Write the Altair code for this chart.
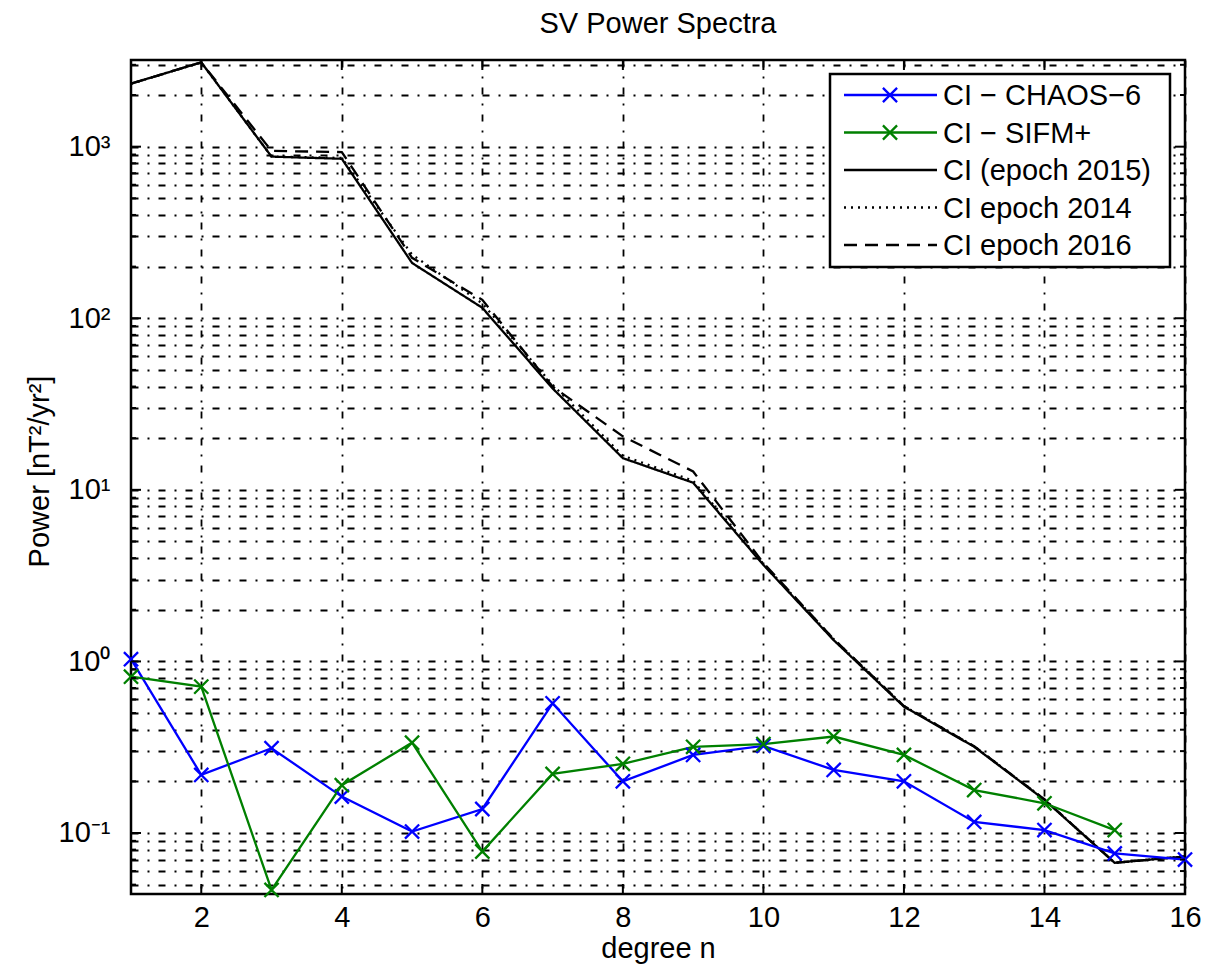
import altair as alt
import pandas as pd

# ---------------- data ----------------
degrees = list(range(1, 17))
chaos6 = [1.03, 0.218, 0.312, 0.163, 0.102, 0.138, 0.570, 0.200, 0.285, 0.322,
          0.233, 0.200, 0.116, 0.104, 0.076, 0.070]
sifm_degrees = list(range(1, 16))
sifm = [0.815, 0.713, 0.0466, 0.190, 0.336, 0.078, 0.221, 0.253, 0.318, 0.330,
        0.365, 0.285, 0.178, 0.149, 0.104]
ci2015 = [2330, 3100, 875, 850, 210, 115, 39, 15.3, 11.0, 3.65,
          1.33, 0.545, 0.318, 0.156, 0.067, 0.073]
ci2014 = [2330, 3100, 875, 860, 235, 122, 41, 15.8, 11.3, 3.70,
          1.35, 0.550, 0.320, 0.157, 0.067, 0.073]
ci2016 = [2330, 3100, 945, 930, 225, 128, 40, 20.5, 12.8, 3.75,
          1.35, 0.550, 0.320, 0.157, 0.067, 0.073]

series_names = ["CI \u2212 CHAOS\u22126", "CI \u2212 SIFM+", "CI (epoch 2015)",
                "CI epoch 2014", "CI epoch 2016"]
series_colors = ["#0000ff", "#008000", "#000000", "#000000", "#000000"]
series_dash = [[1, 0], [1, 0], [1, 0], [2, 5], [13, 8]]

chart_title = "SV Power Spectra"
x_tick_values = [2, 4, 6, 8, 10, 12, 14, 16]
y_decades = [0.1, 1.0, 10.0, 100.0, 1000.0]
y_domain = [0.0441, 3200]
x_domain = [1, 16]
y_grid_values = [round(m * 10.0 ** k, 6) for k in range(-2, 4) for m in range(1, 10)
                 if y_domain[0] <= m * 10.0 ** k <= y_domain[1]]
y_minor = [v for v in y_grid_values if v not in y_decades]

# ---------------- layout ----------------
W, H = 1054, 834
FONT = "Liberation Sans"
FS = 29
LW = 2.3
XPATH = "M-1,-1L1,1M-1,1L1,-1"

rows = []
for d, v in zip(degrees, chaos6):
    rows.append({"degree": d, "power": v, "series": series_names[0]})
for d, v in zip(sifm_degrees, sifm):
    rows.append({"degree": d, "power": v, "series": series_names[1]})
for d, v in zip(degrees, ci2015):
    rows.append({"degree": d, "power": v, "series": series_names[2]})
for d, v in zip(degrees, ci2014):
    rows.append({"degree": d, "power": v, "series": series_names[3]})
for d, v in zip(degrees, ci2016):
    rows.append({"degree": d, "power": v, "series": series_names[4]})
df = pd.DataFrame(rows)

xscale = alt.Scale(domain=x_domain, nice=False, zero=False)
yscale = alt.Scale(type="log", domain=y_domain, nice=False)

label_expr = ("datum.value == 1000 ? '10\u00b3' : datum.value == 100 ? '10\u00b2' : "
              "datum.value == 10 ? '10\u00b9' : datum.value == 1 ? '10\u2070' : "
              "datum.value == 0.1 ? '10\u207b\u00b9' : ''")

xaxis = alt.Axis(values=x_tick_values, title="degree n", grid=True, ticks=False,
                 domain=False, labelPadding=9, labelFlush=False, labelOverlap=False,
                 titleY=63, titleBaseline="alphabetic")
yaxis = alt.Axis(values=y_grid_values, title="Power [nT\u00b2/yr\u00b2]", grid=True,
                 ticks=False, domain=False, labelExpr=label_expr, labelPadding=21,
                 labelOverlap=False, labelBound=False, labelFlush=False,
                 titleX=-83, titleY=H / 2 - 6, titleBaseline="alphabetic", titleAngle=270)

X = alt.X("degree:Q", scale=xscale, axis=xaxis)
Y = alt.Y("power:Q", scale=yscale, axis=yaxis)

color = alt.Color("series:N", scale=alt.Scale(domain=series_names, range=series_colors),
                  legend=None)
dash = alt.StrokeDash("series:N", scale=alt.Scale(domain=series_names, range=series_dash),
                      legend=None)

black = df[df.series.isin(series_names[2:])]
colored = df[df.series.isin(series_names[:2])]

black_lines = alt.Chart(black).mark_line(strokeWidth=LW).encode(
    x=X, y=Y, color=color, strokeDash=dash, order="degree:Q",
    detail="series:N")
col_lines = alt.Chart(colored).mark_line(strokeWidth=LW).encode(
    x=X, y=Y, color=color, detail="series:N", order="degree:Q")
col_points = alt.Chart(colored).mark_point(shape=XPATH, size=200, filled=False,
                                           strokeWidth=LW, opacity=1).encode(
    x=X, y=Y, color=color)

# inward ticks (box style)
df_ymaj = pd.DataFrame({"power": y_decades})
df_ymin = pd.DataFrame({"power": y_minor})
df_xt = pd.DataFrame({"degree": x_tick_values[:-1]})

tick_layers = []
for dd, ln in ((df_ymaj, 10), (df_ymin, 5)):
    tick_layers.append(alt.Chart(dd).mark_rule(color="black", strokeWidth=2).encode(
        y=Y, x=alt.value(0), x2=alt.value(ln)))
    tick_layers.append(alt.Chart(dd).mark_rule(color="black", strokeWidth=2).encode(
        y=Y, x=alt.value(W - ln), x2=alt.value(W)))
tick_layers.append(alt.Chart(df_xt).mark_rule(color="black", strokeWidth=2).encode(
    x=X, y=alt.value(H - 10), y2=alt.value(H)))
tick_layers.append(alt.Chart(df_xt).mark_rule(color="black", strokeWidth=2).encode(
    x=X, y=alt.value(0), y2=alt.value(10)))

# title as a text mark above the plot
title_layer = alt.Chart(pd.DataFrame({"t": [chart_title]})).mark_text(
    font=FONT, fontSize=FS, color="black", align="center", baseline="alphabetic").encode(
    text="t:N", x=alt.value(W / 2), y=alt.value(-27))

# legend (MATLAB style box)
LX0, LX1, LY0, LY1 = 699, 1039, 14, 207
leg_layers = [alt.Chart(pd.DataFrame({"series": series_names[:1]})).mark_rect(
    fill="white", stroke="black", strokeWidth=2.5).encode(
    x=alt.value(LX0), x2=alt.value(LX1), y=alt.value(LY0), y2=alt.value(LY1))]
for i, name in enumerate(series_names):
    ry = 35 + 37.5 * i
    one = alt.Chart(pd.DataFrame({"series": [name]}))
    leg_layers.append(one.mark_rule(color=series_colors[i], strokeWidth=LW,
                                    strokeDash=series_dash[i]).encode(
        x=alt.value(713), x2=alt.value(806), y=alt.value(ry)))
    if i < 2:
        leg_layers.append(one.mark_point(shape=XPATH, size=200, filled=False,
                                         strokeWidth=LW, color=series_colors[i],
                                         opacity=1).encode(
            x=alt.value(759), y=alt.value(ry)))
    leg_layers.append(one.mark_text(text=name, align="left", baseline="middle",
                                    font=FONT, fontSize=FS, color="black").encode(
        x=alt.value(812), y=alt.value(ry + 1)))

chart = alt.layer(black_lines, col_lines, col_points, *tick_layers, title_layer,
                  *leg_layers).properties(
    width=W, height=H,
    autosize=alt.AutoSizeParams(type="none"),
    padding={"left": 123, "top": 52, "right": 21, "bottom": 70},
).configure(
    background="white"
).configure_view(
    stroke="black", strokeWidth=2.5
).configure_axis(
    gridColor="black", gridOpacity=1, gridWidth=1.8, gridDash=[7, 9, 2, 9],
    labelFont=FONT, labelFontSize=FS, labelColor="black",
    titleFont=FONT, titleFontSize=FS, titleFontWeight="normal", titleColor="black",
)

chart.save("out.html", embed_options={"renderer": "svg", "actions": False})
